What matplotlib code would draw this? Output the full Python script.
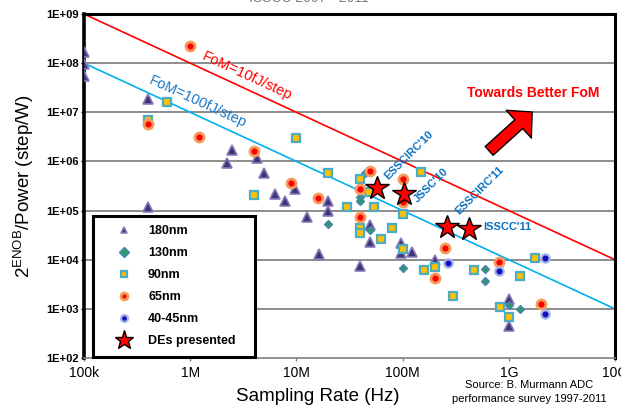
import matplotlib
matplotlib.use('Agg')
import matplotlib.pyplot as plt
import numpy as np

plt.rcParams['font.family'] = ['Liberation Sans', 'DejaVu Sans']
plt.rcParams['mathtext.fontset'] = 'custom'
plt.rcParams['mathtext.rm'] = 'Liberation Sans'

# data: sampling rate [Hz], 2^ENOB/P [step/W]
x180 = [1e5, 1e5, 1e5, 4e5, 4e5, 2.2e6, 2.5e6, 4.3e6, 5e6, 6.3e6, 7.8e6, 9.7e6,
        1.26e7, 1.65e7, 2e7, 2e7, 4e7, 4.9e7, 4.9e7, 9.6e7, 9.6e7, 1.23e8, 2e8,
        1e9, 1e9]
y180 = [1.7e8, 9.5e7, 5.5e7, 1.9e7, 1.2e5, 9.3e5, 1.7e6, 1.2e6, 5.8e5, 2.2e5, 1.6e5, 2.8e5,
        7.5e4, 1.3e4, 1.6e5, 1e5, 7.3e3, 5.2e4, 2.3e4, 2.2e4, 1.35e4, 1.45e4, 9.8e3,
        1.6e3, 4.4e2]

x130 = [2e7, 4.4e7, 4e7, 4e7, 4.9e7, 1e8, 6e8, 6e8, 1e9, 1.27e9]
y130 = [5.4e4, 5.9e5, 1.9e5, 1.6e5, 4e4, 6.9e3, 6.5e3, 3.7e3, 1.2e3, 9.8e2]

x90 = [4e5, 6e5, 1e7, 4e6, 2e7, 3e7, 4e7, 5.4e7, 4e7, 4e7, 6.2e7, 4.8e7,
       1.5e8, 1e8, 8e7, 1e8, 1.6e8, 2e8, 3e8, 4.7e8, 8.2e8, 1e9, 1.77e9, 1.27e9]
y90 = [6.9e6, 1.64e7, 3e6, 2.1e5, 5.7e5, 1.17e5, 4.4e5, 1.17e5, 4.4e4, 3.5e4, 2.7e4, 2.4e5,
       6e5, 8.7e4, 4.4e4, 1.66e4, 6.3e3, 7.2e3, 1.85e3, 6.3e3, 1.1e3, 6.9e2, 1.1e4, 4.7e3]

x65 = [1e6, 4e5, 1.2e6, 4e6, 8.9e6, 1.6e7, 4.9e7, 4e7, 4e7, 1e8, 1e8,
       2.5e8, 2e8, 8.1e8, 2e9]
y65 = [2.2e8, 5.8e6, 3.2e6, 1.6e6, 3.6e5, 1.8e5, 6.5e5, 2.7e5, 7.3e4, 4.4e5, 1.5e5,
       1.7e4, 4.3e3, 8.9e3, 1.23e3]

x40 = [2.7e8, 8.1e8, 2.2e9, 2.2e9]
y40 = [8.5e3, 5.9e3, 1.07e4, 7.8e2]

xDE = [5.7e7, 1.02e8, 2.6e8, 4.2e8]
yDE = [2.9e5, 2.2e5, 4.7e4, 4.2e4]
deNames = ["ESSCIRC'10", "JSSC'10", "ESSCIRC'11", "ISSCC'11"]

fomX = [1e5, 1e10]
fom10 = [1e9, 1e4]
fom100 = [1e8, 1e3]

xticks = [1e5, 1e6, 1e7, 1e8, 1e9, 1e10]
xticklabels = ['100k', '1M', '10M', '100M', '1G', '10G']
yticks = [1e2, 1e3, 1e4, 1e5, 1e6, 1e7, 1e8, 1e9]
yticklabels = ['1E+02', '1E+03', '1E+04', '1E+05', '1E+06', '1E+07', '1E+08', '1E+09']

fig = plt.figure(figsize=(6.21, 4.12), dpi=100)
ax = fig.add_axes([84/621, 1-358/412, 531/621, 344/412])
ax.set_xscale('log')
ax.set_yscale('log')
ax.set_xlim(1e5, 1e10)
ax.set_ylim(1e2, 1e9)

for yy in yticks[1:-1]:
    ax.axhline(yy, color='#8c8c8c', lw=1.4, zorder=1)

ax.plot(fomX, fom10, color='#ff0000', lw=1.2, zorder=2)
ax.plot(fomX, fom100, color='#00b0f0', lw=1.2, zorder=2)

ax.plot(x180, y180, ls='none', marker='^', ms=6.5, mfc='#3d3575', mec='#8a78b8', mew=1.2,
        label='180nm', zorder=3)
ax.plot(x130, y130, ls='none', marker='D', ms=4, mfc='#2e9a66', mec='#4f81bd', mew=1.0,
        label='130nm', zorder=3)
ax.plot(x90, y90, ls='none', marker='s', ms=6, mfc='#ffc000', mec='#4bacc6', mew=1.6,
        label='90nm', zorder=3)
ax.plot(x65, y65, ls='none', marker='o', ms=6.5, mfc='#ff0000', mec='#f59a5a', mew=2.0,
        label='65nm', zorder=3)
ax.plot(x40, y40, ls='none', marker='o', ms=6, mfc='#1010c8', mec='#a9b6e4', mew=1.6,
        label='40-45nm', zorder=3)
ax.plot(xDE, yDE, ls='none', marker='*', ms=17.5, mfc='#ff0000', mec='black', mew=1.0,
        label='DEs presented', zorder=4)

blue = '#0a70c0'
ax.text(1.15e8, 1.35e6, deNames[0], rotation=45, ha='center', va='center', color=blue,
        fontsize=8, fontweight='bold')
ax.text(1.85e8, 3.2e5, deNames[1], rotation=45, ha='center', va='center', color=blue,
        fontsize=8, fontweight='bold')
ax.text(5.25e8, 2.6e5, deNames[2], rotation=45, ha='center', va='center', color=blue,
        fontsize=8, fontweight='bold')
ax.text(5.7e8, 4.6e4, deNames[3], ha='left', va='center', color=blue,
        fontsize=8, fontweight='bold')

ax.text(3.4e6, 5.5e7, 'FoM=10fJ/step', rotation=-24.8, ha='center', va='center',
        color='#ff0000', fontsize=10.5)
ax.text(1.18e6, 1.6e7, 'FoM=100fJ/step', rotation=-24.8, ha='center', va='center',
        color='#1a78c8', fontsize=10.5)
ax.text(1.7e9, 2.5e7, 'Towards Better FoM', ha='center', va='center', color='#ff0000',
        fontsize=10, fontweight='bold')

ax.annotate('', xy=(0.844, 0.715), xytext=(0.763, 0.602), xycoords='axes fraction',
            arrowprops=dict(arrowstyle='simple,head_length=1.3,head_width=2.7,tail_width=0.85',
                            mutation_scale=10, fc='#ff0000', ec='black', lw=1,
                            shrinkA=0, shrinkB=0))

ax.set_xticks(xticks)
ax.set_xticklabels(xticklabels, fontsize=10)
ax.set_yticks(yticks)
ax.set_yticklabels(yticklabels, fontsize=8, fontweight='bold')
ax.minorticks_off()
ax.tick_params(axis='x', length=2.5, width=1, color='#808080', pad=3)
ax.tick_params(axis='y', length=2.5, width=1, color='black', pad=1)

for side in ['left', 'top', 'right']:
    ax.spines[side].set_linewidth(2.2)
    ax.spines[side].set_color('black')
ax.spines['left'].set_linewidth(2.6)
ax.spines['bottom'].set_linewidth(1.2)
ax.spines['bottom'].set_color('#808080')

ax.set_xlabel('Sampling Rate (Hz)', fontsize=13.5)
ax.xaxis.set_label_coords(0.44, -0.088)
ax.xaxis.label.set_va('top')
ax.set_ylabel(r'$2^{\mathrm{ENOB}}$/Power (step/W)', fontsize=13.5)
ax.yaxis.set_label_coords(-0.09, 0.5)

leg = ax.legend(loc='lower left', bbox_to_anchor=(0.017, 0.004, 0.305, 0.5), mode='expand',
                borderaxespad=0,
                prop={'weight': 'bold', 'size': 9}, frameon=True, fancybox=False,
                edgecolor='black', framealpha=1, borderpad=0.75, handlelength=3.45,
                handletextpad=0.2, labelspacing=0.8, numpoints=1)
leg.get_frame().set_linewidth(2.2)
for h in leg.legend_handles[:5]:
    h.set_markersize(5)
leg.legend_handles[5].set_markersize(14)

fig.text(529/621, 1-392/412, 'Source: B. Murmann ADC\nperformance survey 1997-2011',
         ha='center', va='center', fontsize=8, linespacing=1.6)
fig.text(309/621, 1-1.5/412, 'ISSCC 2007 - 2011', ha='center', va='baseline',
         fontsize=10, color='#808080')

fig.savefig('out.png', dpi=100)
